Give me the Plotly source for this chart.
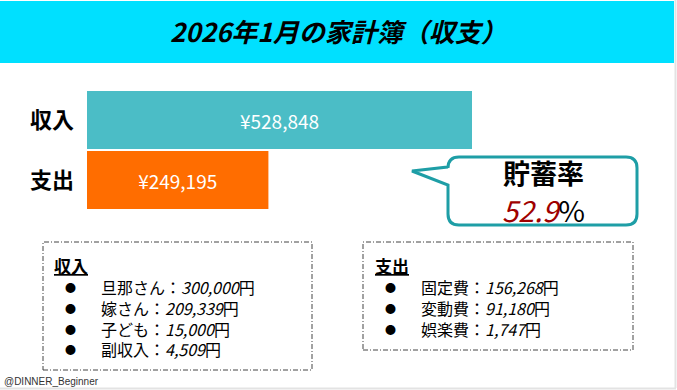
import plotly.graph_objects as go

W, H = 677, 390

# ---- data ----
categories = ["収入", "支出"]
amounts = [528848, 249195]
bar_colors = ["#4BBDC6", "#FF6D00"]
title_text = "2026年1月の家計簿（収支）"
savings_label = "貯蓄率"
savings_rate = 52.9
income_items = ["旦那さん", "嫁さん", "子ども", "副収入"]
income_values = [300000, 209339, 15000, 4509]
expense_items = ["固定費", "変動費", "娯楽費"]
expense_values = [156268, 91180, 1747]
credit = "@DINNER_Beginner"

JP = "Noto Sans CJK JP"


def px(x):
    return x / W


def py(y):
    return 1 - y / H


fig = go.Figure()
fig.add_trace(go.Bar(
    y=categories, x=amounts, orientation="h",
    marker=dict(color=bar_colors, line=dict(width=0)),
    texttemplate="¥%{x:,}", textposition="inside", insidetextanchor="middle",
    textfont=dict(color="white", size=19, family=JP),
    hoverinfo="skip",
))

shapes = []
# header band
shapes.append(dict(type="rect", xref="paper", yref="paper",
                   x0=px(0), x1=px(674), y0=py(63), y1=py(1),
                   fillcolor="#00E0FF", line=dict(width=0), layer="below"))
# right / bottom light border
shapes.append(dict(type="line", xref="paper", yref="paper",
                   x0=px(675.5), x1=px(675.5), y0=py(0), y1=py(388),
                   line=dict(color="#E3E3E3", width=2)))
shapes.append(dict(type="line", xref="paper", yref="paper",
                   x0=px(0), x1=px(676), y0=py(388.5), y1=py(388.5),
                   line=dict(color="#E3E3E3", width=2)))

# callout bubble
L, R, T, B, r = 448, 637, 157, 225, 11
tip = (412, 171)
path = (f"M {px(L + r)},{py(T)} L {px(R - r)},{py(T)} "
        f"Q {px(R)},{py(T)} {px(R)},{py(T + r)} "
        f"L {px(R)},{py(B - r)} Q {px(R)},{py(B)} {px(R - r)},{py(B)} "
        f"L {px(L + r)},{py(B)} Q {px(L)},{py(B)} {px(L)},{py(B - r)} "
        f"L {px(L)},{py(185)} L {px(tip[0])},{py(tip[1])} L {px(L)},{py(167)} "
        f"L {px(L)},{py(T + r)} Q {px(L)},{py(T)} {px(L + r)},{py(T)} Z")
shapes.append(dict(type="path", xref="paper", yref="paper", path=path,
                   fillcolor="white", line=dict(color="#1E9EA6", width=3)))

# dash-dot boxes
DASH = "5px,2px,1px,2px"
shapes.append(dict(type="rect", xref="paper", yref="paper",
                   x0=px(43), x1=px(312), y0=py(370), y1=py(242),
                   line=dict(color="#444444", width=1, dash=DASH)))
shapes.append(dict(type="rect", xref="paper", yref="paper",
                   x0=px(363), x1=px(633), y0=py(350), y1=py(242),
                   line=dict(color="#444444", width=1, dash=DASH)))

ann = []


def A(x, y, text, size, xanchor="center", align="center", family=JP, color="black"):
    ann.append(dict(x=px(x), y=py(y), xref="paper", yref="paper",
                    xanchor=xanchor, yanchor="middle", align=align,
                    text=text, showarrow=False,
                    font=dict(size=size, color=color, family=family)))


A(338, 31, f"<b><i>{title_text}</i></b>", 26)
A(543, 172, f"<b>{savings_label}</b>", 27)
A(543, 209, f"<span style='color:#A00000'><i>{savings_rate}</i></span>%", 29)

FS = 16


def block(x_head, x_bullet, x_text, head, items, values, y_first):
    n = len(items)
    A(x_head, 265, f"<b><u>{head}</u></b>", 17, xanchor="left", align="left")
    lines = [f"{it}：<i>{v:,}</i>円" for it, v in zip(items, values)]
    bullets = ["<span style='font-size:11px'>●</span>"] * n
    yc = y_first + (n - 1) * FS * 1.3 / 2
    A(x_bullet, yc, "<br>".join(bullets), FS)
    A(x_text, yc, "<br>".join(lines), FS, xanchor="left", align="left")


block(52, 70, 99, "収入", income_items, income_values, 287)
block(373, 390, 419, "支出", expense_items, expense_values, 287)

A(2, 381, credit, 10, xanchor="left", align="left",
  family="Liberation Sans", color="#333333")

fig.update_layout(
    width=W, height=H, margin=dict(l=0, r=0, t=0, b=0),
    paper_bgcolor="white", plot_bgcolor="rgba(0,0,0,0)",
    showlegend=False, bargap=0.03,
    xaxis=dict(domain=[px(87), px(472)], range=[0, amounts[0]],
               visible=False, fixedrange=True),
    yaxis=dict(domain=[py(210), py(90)], autorange="reversed",
               showgrid=False, zeroline=False, showline=False, ticks="",
               ticklabelstandoff=12, fixedrange=True,
               tickfont=dict(size=22, color="black", family=JP),
               tickvals=categories, ticktext=[f"<b>{c}</b>" for c in categories]),
    shapes=shapes, annotations=ann,
)

fig.write_html("out.html", config={"displayModeBar": False},
               post_script="document.body.style.margin='0';")
